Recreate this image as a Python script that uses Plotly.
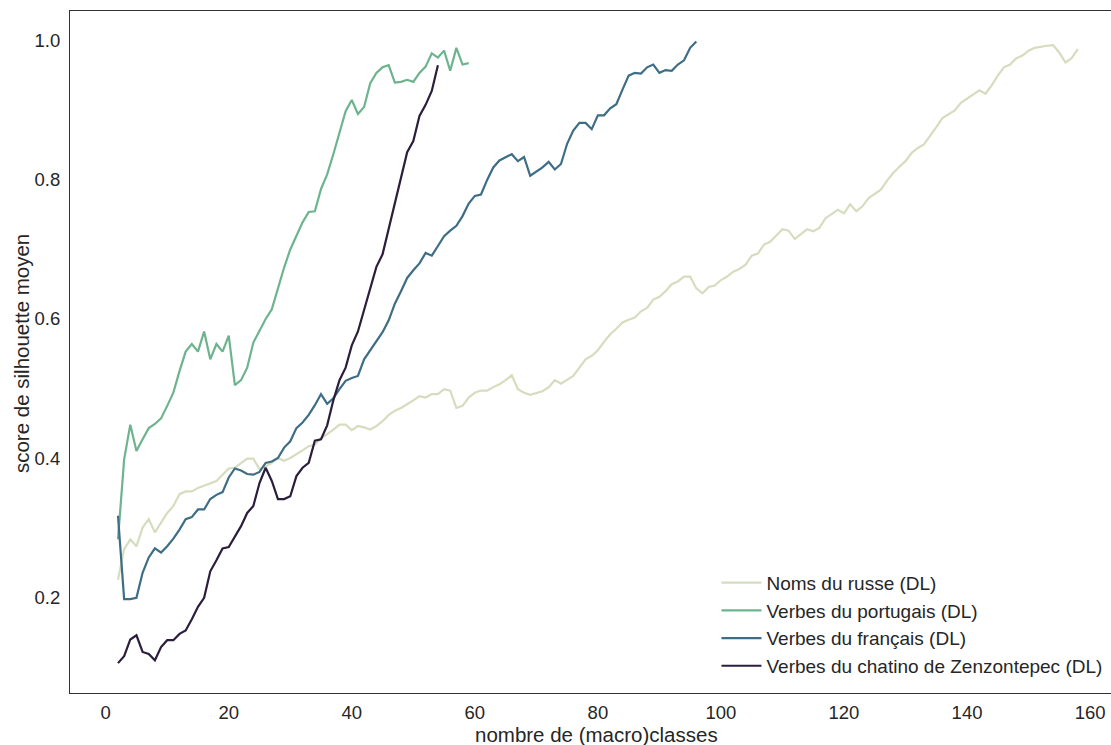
import plotly.graph_objects as go

# ---- data ----
russe_x = list(range(2, 159))
russe_y = [
    0.225, 0.269, 0.283, 0.273, 0.300, 0.312, 0.293, 0.307, 0.321, 0.331,   # 2-11
    0.348, 0.352, 0.352, 0.357, 0.360, 0.363, 0.367, 0.376, 0.385, 0.386,   # 12-21
    0.392, 0.399, 0.399, 0.384, 0.388, 0.393, 0.400, 0.396, 0.400, 0.405,   # 22-31
    0.411, 0.417, 0.419, 0.428, 0.434, 0.441, 0.448, 0.448, 0.440, 0.446,   # 32-41
    0.444, 0.441, 0.446, 0.453, 0.462, 0.468, 0.472, 0.477, 0.483, 0.489,   # 42-51
    0.487, 0.492, 0.492, 0.499, 0.497, 0.472, 0.475, 0.487, 0.494, 0.497,   # 52-61
    0.497, 0.502, 0.506, 0.512, 0.519, 0.499, 0.494, 0.491, 0.493, 0.496,   # 62-71
    0.502, 0.512, 0.507, 0.512, 0.518, 0.530, 0.542, 0.547, 0.555, 0.567,   # 72-81
    0.578, 0.586, 0.595, 0.599, 0.602, 0.611, 0.616, 0.628, 0.632, 0.640,   # 82-91
    0.650, 0.654, 0.661, 0.661, 0.644, 0.637, 0.646, 0.648, 0.656, 0.661,   # 92-101
    0.668, 0.672, 0.678, 0.691, 0.694, 0.707, 0.711, 0.720, 0.729, 0.727,   # 102-111
    0.715, 0.722, 0.729, 0.726, 0.731, 0.745, 0.751, 0.757, 0.752, 0.765,   # 112-121
    0.755, 0.762, 0.774, 0.780, 0.786, 0.799, 0.810, 0.819, 0.827, 0.839,   # 122-131
    0.846, 0.851, 0.863, 0.876, 0.889, 0.895, 0.900, 0.911, 0.917, 0.922,   # 132-141
    0.929, 0.924, 0.936, 0.950, 0.962, 0.966, 0.975, 0.979, 0.986, 0.990,   # 142-151
    0.992, 0.993, 0.994, 0.983, 0.969, 0.975, 0.988,                        # 152-158
]

portugais_x = list(range(2, 60))
portugais_y = [
    0.283, 0.398, 0.448, 0.410, 0.427, 0.443, 0.449, 0.457, 0.475, 0.494,   # 2-11
    0.525, 0.553, 0.564, 0.553, 0.582, 0.542, 0.564, 0.553, 0.576, 0.505,   # 12-21
    0.512, 0.530, 0.566, 0.583, 0.600, 0.614, 0.645, 0.674, 0.700, 0.720,   # 22-31
    0.739, 0.754, 0.755, 0.787, 0.808, 0.837, 0.868, 0.899, 0.915, 0.895,   # 32-41
    0.905, 0.939, 0.954, 0.962, 0.965, 0.940, 0.941, 0.944, 0.941, 0.954,   # 42-51
    0.963, 0.982, 0.976, 0.986, 0.957, 0.990, 0.966, 0.968,                 # 52-59
]

francais_x = list(range(2, 97))
francais_y = [
    0.317, 0.197, 0.197, 0.199, 0.235, 0.257, 0.270, 0.264, 0.273, 0.284,   # 2-11
    0.297, 0.312, 0.315, 0.326, 0.326, 0.341, 0.347, 0.351, 0.372, 0.385,   # 12-21
    0.382, 0.377, 0.376, 0.380, 0.393, 0.395, 0.400, 0.415, 0.424, 0.443,   # 22-31
    0.451, 0.462, 0.476, 0.492, 0.478, 0.486, 0.499, 0.511, 0.515, 0.518,   # 32-41
    0.542, 0.555, 0.567, 0.581, 0.598, 0.622, 0.640, 0.659, 0.670, 0.680,   # 42-51
    0.695, 0.691, 0.705, 0.719, 0.727, 0.734, 0.748, 0.766, 0.777, 0.779,   # 52-61
    0.800, 0.818, 0.828, 0.832, 0.837, 0.827, 0.833, 0.806, 0.812, 0.818,   # 62-71
    0.826, 0.815, 0.823, 0.852, 0.871, 0.882, 0.882, 0.873, 0.893, 0.893,   # 72-81
    0.903, 0.909, 0.930, 0.950, 0.954, 0.953, 0.962, 0.966, 0.954, 0.958,   # 82-91
    0.957, 0.966, 0.972, 0.990, 0.999,                                      # 92-96
]

chatino_x = list(range(2, 55))
chatino_y = [
    0.105, 0.115, 0.139, 0.145, 0.121, 0.118, 0.109, 0.128, 0.138, 0.138,   # 2-11
    0.147, 0.152, 0.168, 0.186, 0.199, 0.237, 0.253, 0.270, 0.272, 0.288,   # 12-21
    0.302, 0.321, 0.331, 0.364, 0.386, 0.367, 0.341, 0.341, 0.345, 0.374,   # 22-31
    0.386, 0.393, 0.425, 0.427, 0.447, 0.483, 0.512, 0.530, 0.562, 0.582,   # 32-41
    0.612, 0.645, 0.675, 0.693, 0.730, 0.768, 0.805, 0.840, 0.856, 0.892,   # 42-51
    0.908, 0.928, 0.965,                                                    # 52-54
]

series = [
    ("Noms du russe (DL)", russe_x, russe_y, "#d6ddbf"),
    ("Verbes du portugais (DL)", portugais_x, portugais_y, "#6db48e"),
    ("Verbes du français (DL)", francais_x, francais_y, "#3e6d86"),
    ("Verbes du chatino de Zenzontepec (DL)", chatino_x, chatino_y, "#2b1e3c"),
]

x_ticks = [0, 20, 40, 60, 80, 100, 120, 140, 160]
y_ticks = [0.2, 0.4, 0.6, 0.8, 1.0]
x_title = "nombre de (macro)classes"
y_title = "score de silhouette moyen"

fig = go.Figure()
for name, xs, ys, col in series:
    fig.add_trace(go.Scatter(x=xs, y=ys, mode="lines", name=name,
                             line=dict(color=col, width=2.2)))

font_family = "Liberation Sans, Arial, sans-serif"
txt_col = "#262626"
fig.update_layout(
    width=1111, height=745,
    margin=dict(l=70, r=0, t=11, b=52, autoexpand=False),
    paper_bgcolor="white", plot_bgcolor="white",
    font=dict(family=font_family, size=18, color=txt_col),
    showlegend=True,
    legend=dict(x=0.621, y=0.012, xanchor="left", yanchor="bottom",
                bgcolor="rgba(0,0,0,0)", font=dict(size=19, color=txt_col),
                tracegroupgap=0, itemwidth=40),
    xaxis=dict(range=[-5.8, 163.4], tickvals=x_ticks,
               ticktext=[str(v) for v in x_ticks],
               showgrid=False, zeroline=False, showline=True,
               linecolor="#333333", linewidth=1.25, mirror=True,
               ticks="", ticklabelstandoff=3, automargin=False,
               tickfont=dict(size=18.5, color=txt_col)),
    yaxis=dict(range=[0.062, 1.043], tickvals=y_ticks,
               ticktext=["0.2", "0.4", "0.6", "0.8", "1.0"],
               showgrid=False, zeroline=False, showline=True,
               linecolor="#333333", linewidth=1.25, mirror=False,
               ticks="", ticklabelstandoff=5, automargin=False,
               tickfont=dict(size=18.5, color=txt_col)),
    annotations=[
        dict(text=x_title, xref="paper", yref="paper", x=0.506, y=0,
             xanchor="center", yanchor="middle", yshift=-41, showarrow=False,
             font=dict(size=20.5, color=txt_col)),
        dict(text=y_title, xref="paper", yref="paper", x=0, y=0.497,
             xanchor="center", yanchor="middle", xshift=-49, textangle=-90,
             showarrow=False, font=dict(size=20.5, color=txt_col)),
    ],
)

fig.write_html("out.html",
               config={"displayModeBar": False},
               post_script="document.body.style.margin='0';"
                           "document.body.style.overflow='hidden';")
